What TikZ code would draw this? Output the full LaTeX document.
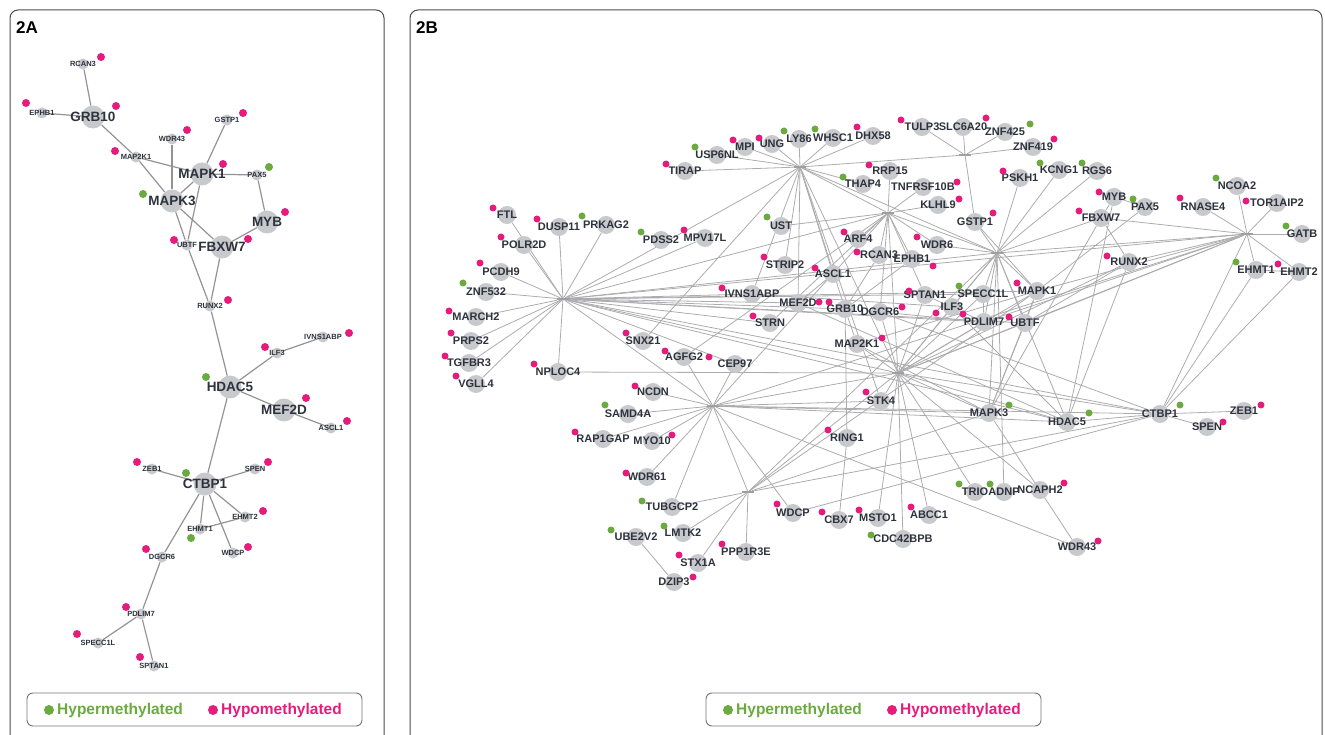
\documentclass[tikz,border=0pt]{standalone}
\usepackage{fontspec}
\setmainfont{Liberation Sans}
\pgfdeclarelayer{edges}
\pgfsetlayers{edges,main}
\definecolor{hyper}{RGB}{106,170,62}
\definecolor{hypo}{RGB}{230,28,125}
\definecolor{nodegray}{RGB}{200,201,205}
\definecolor{txt}{RGB}{45,50,60}
\definecolor{edgegray}{RGB}{172,172,174}
\tikzset{gnode/.style = {circle, fill=nodegray, inner sep=0, minimum size=18}}
\tikzset{glabel/.style = {font=\bfseries\fontsize{11}{11}\selectfont, text=txt, inner sep=0}}
\tikzset{asmall/.style = {circle, fill=nodegray, inner sep=0, minimum size=11}}
\tikzset{abig/.style = {circle, fill=nodegray, inner sep=0, minimum size=23}}
\tikzset{aslabel/.style = {font=\bfseries\fontsize{7.5}{7.5}\selectfont, text=txt, inner sep=0}}
\tikzset{ablabel/.style = {font=\bfseries\fontsize{13.5}{13.5}\selectfont, text=txt, inner sep=0}}
\tikzset{mdot/.style = {circle, inner sep=0, minimum size=7}}
\tikzset{hub/.style = {fill=gray!75, inner sep=0, minimum width=12, minimum height=2}}
\tikzset{aedge/.style = {draw=gray!85, line width=1.2}}
\tikzset{bedge/.style = {draw=edgegray, line width=0.8}}
\tikzset{panel/.style = {draw=black!70, line width=1, rounded corners=8}}
\tikzset{legbox/.style = {draw=black!55, line width=0.9, rounded corners=6}}
\tikzset{legtext/.style = {font=\bfseries\fontsize{15.5}{16}\selectfont, inner sep=0, anchor=west}}

\begin{document}
\begin{tikzpicture}[x=1pt, y=-1pt]
  \useasboundingbox (0,0) rectangle (1325,735);
  \clip (0,0) rectangle (1325,735);

  % panels
  \draw[panel] (10,10) rectangle (384,800);
  \draw[panel] (410,10) rectangle (1322,800);
  \node[font=\bfseries\fontsize{17}{17}\selectfont, anchor=west, inner sep=0] (titA) at (16,28) {2A};
  \node[font=\bfseries\fontsize{17}{17}\selectfont, anchor=west, inner sep=0] (titB) at (416,28) {2B};

  % 2A
  \foreach \n/\x/\y/\u/\v/\c in {RCAN3/83/64/101/57/hypo, EPHB1/42/113/26/103/hypo,
      GSTP1/227/120/243/113/hypo, WDR43/172/139/187/130/hypo, MAP2K1/136/157/115/151/hypo,
      PAX5/257/175/269/167/hyper, UBTF/187/245/174/240/hypo, RUNX2/210/306/228/300/hypo,
      IVNS1ABP/323/337/349/333/hypo, ILF3/277/353/265/347/hypo, ASCL1/331/428/347/421/hypo,
      ZEB1/152/469/137/462/hypo, SPEN/255/469/268/462/hypo, EHMT2/245/517/263/511/hypo,
      EHMT1/200/529/191/538/hyper, WDCP/233/553/248/547/hypo, DGCR6/162/557/146/549/hypo,
      PDLIM7/141/614/126/607/hypo, SPECC1L/98/643/77/634/hypo, SPTAN1/154/666/140/657/hypo}
    {
      \node[asmall, label={[aslabel]center:\n}] (a\n) at (\x,\y) {};
      \node[mdot, minimum size=8, fill=\c] (ad\n) at (\u,\v) {};
    }
  \foreach \n/\x/\y/\u/\v/\c in {GRB10/93/117/116/106/hypo, MAPK1/202/174/223/164/hypo,
      MAPK3/172/201/143/194/hyper, MYB/267/222/285/212/hypo, FBXW7/222/247/248/239/hypo,
      HDAC5/230/387/206/377/hyper, MEF2D/284/410/306/398/hypo, CTBP1/205/484/186/473/hyper}
    {
      \node[abig, label={[ablabel]center:\n}] (a\n) at (\x,\y) {};
      \node[mdot, minimum size=8, fill=\c] (ad\n) at (\u,\v) {};
    }
  \begin{pgfonlayer}{edges}
    \foreach \s/\t in {GRB10/RCAN3, GRB10/EPHB1, GRB10/MAP2K1, MAP2K1/MAPK3, MAP2K1/MAPK1,
        WDR43/MAPK3, GSTP1/MAPK1, MAPK1/PAX5, PAX5/MYB, MAPK1/MAPK3, MAPK1/UBTF, MAPK3/UBTF,
        MAPK3/FBXW7, MYB/FBXW7, UBTF/RUNX2, FBXW7/RUNX2, RUNX2/HDAC5, HDAC5/ILF3,
        ILF3/IVNS1ABP, HDAC5/MEF2D, MEF2D/ASCL1, HDAC5/CTBP1, CTBP1/ZEB1, CTBP1/SPEN,
        CTBP1/EHMT2, CTBP1/EHMT1, EHMT1/EHMT2, CTBP1/WDCP, CTBP1/DGCR6, DGCR6/PDLIM7,
        PDLIM7/SPECC1L, PDLIM7/SPTAN1}
      \draw[aedge] (a\s) -- (a\t);
  \end{pgfonlayer}

  % 2B
  \foreach \n/\x/\y in {h1/800/167, h2/888/213, h3/965/155, h4/997/253, h5/1247/234,
      h6/563/299, h7/898/373, h8/713/406, h9/748/492}
    \node[hub] (b\n) at (\x,\y) {};
  \foreach \n/\x/\y/\u/\v/\c in {USP6NL/717/155/695/147/hyper, TIRAP/685/171/666/164/hypo,
      FTL/507/215/493/208/hypo, DUSP11/559/227/537/219/hypo, PRKAG2/606/225/582/216/hyper,
      PDSS2/661/240/641/232/hyper, MPV17L/705/238/684/230/hypo, POLR2D/524/245/501/237/hypo,
      PCDH9/501/272/480/263/hypo, MPI/745/147/733/140/hypo, UNG/772/144/759/138/hypo,
      LY86/799/139/784/131/hyper, WHSC1/833/138/815/129/hyper, DHX58/873/136/857/127/hypo,
      TULP3/922/127/901/120/hypo, SLC6A20/963/127/986/118/hypo, ZNF425/1005/132/1030/124/hyper,
      ZNF419/1033/147/1054/139/hypo, RRP15/890/171/869/165/hypo, THAP4/863/184/843/177/hyper,
      TNFRSF10B/923/187/957/182/hypo, KLHL9/938/205/959/199/hypo, GSTP1/975/222/993/213/hypo,
      UST/781/226/767/217/hyper, ARF4/858/239/844/232/hypo, WDR6/937/245/917/237/hypo,
      RCAN3/879/255/857/252/hypo, EPHB1/912/259/933/266/hypo, STRIP2/785/265/764/257/hypo,
      ASCL1/833/274/815/268/hypo, PSKH1/1020/178/1003/171/hypo, KCNG1/1059/170/1040/163/hyper,
      RGS6/1097/171/1082/163/hyper, MYB/1114/197/1099/192/hypo, PAX5/1145/207/1133/199/hyper,
      FBXW7/1101/218/1079/211/hypo, RNASE4/1203/207/1180/198/hypo, NCOA2/1237/186/1216/178/hyper,
      TOR1AIP2/1277/203/1246/201/hypo, GATB/1302/234/1286/226/hyper, RUNX2/1129/262/1107/256/hypo,
      EHMT1/1256/270/1236/262/hyper, EHMT2/1299/272/1278/264/hypo, ZNF532/486/292/463/283/hyper,
      MARCH2/476/317/449/311/hypo, PRPS2/471/341/451/333/hypo, TGFBR3/469/363/445/356/hypo,
      VGLL4/476/384/456/376/hypo, NPLOC4/558/372/534/364/hypo, SNX21/643/341/626/333/hypo,
      AGFG2/684/357/665/351/hypo, CEP97/735/364/709/357/hypo, NCDN/653/392/635/386/hypo,
      SAMD4A/628/414/605/405/hyper, RAP1GAP/603/439/575/432/hypo, MYO10/652/441/672/435/hypo,
      IVNS1ABP/752/294/722/288/hypo, MEF2D/798/303/819/302/hypo, GRB10/845/309/829/302/hypo,
      DGCR6/880/312/902/307/hypo, SPTAN1/925/295/909/291/hypo, ILF3/952/307/936/313/hypo,
      SPECC1L/983/294/959/286/hyper, PDLIM7/984/322/963/314/hypo, UBTF/1025/323/1009/317/hypo,
      STRN/770/323/753/316/hypo, MAP2K1/857/344/882/338/hypo, STK4/881/401/866/392/hypo,
      MAPK3/989/413/1009/405/hyper, RING1/847/438/828/430/hypo, MAPK1/1037/291/1017/283/hypo,
      HDAC5/1067/422/1089/413/hyper, CTBP1/1160/414/1180/405/hyper, ZEB1/1244/411/1261/405/hypo,
      SPEN/1207/427/1223/422/hypo, WDR61/647/477/626/473/hypo, TUBGCP2/672/507/642/501/hyper,
      LMTK2/683/533/664/526/hyper, UBE2V2/636/537/611/530/hyper, STX1A/698/563/679/555/hypo,
      DZIP3/674/582/693/577/hypo, WDCP/793/513/777/504/hypo, CBX7/839/520/822/512/hypo,
      MSTO1/878/518/859/510/hypo, ABCC1/929/515/911/507/hypo, CDC42BPB/903/539/871/535/hyper,
      PPP1R3E/746/552/722/544/hypo, TRIO/975/492/959/484/hyper, ADNP/1004/492/990/484/hyper,
      NCAPH2/1040/490/1064/483/hypo, WDR43/1077/547/1098/541/hypo}
    {
      \node[gnode, label={[glabel]center:\n}] (b\n) at (\x,\y) {};
      \node[mdot, fill=\c] (bd\n) at (\u,\v) {};
    }
  \begin{pgfonlayer}{edges}
    \foreach \s/\t in {h1/MPI, h1/UNG, h1/LY86, h1/WHSC1, h1/DHX58, h1/USP6NL, h1/TIRAP,
        h1/THAP4, h1/STRIP2, h1/ASCL1, h1/MEF2D, h1/GRB10, h1/SNX21, h1/IVNS1ABP, h1/STK4,
        h2/RRP15, h2/TNFRSF10B, h2/UST, h2/ARF4, h2/RCAN3, h2/EPHB1, h2/WDR6, h2/KLHL9,
        h2/AGFG2, h2/STRN, h2/DGCR6, h2/SPTAN1,
        h3/TULP3, h3/SLC6A20, h3/ZNF425, h3/ZNF419, h3/GSTP1,
        h4/GSTP1, h4/PSKH1, h4/KCNG1, h4/RGS6, h4/MAPK1, h4/UBTF, h4/PDLIM7, h4/SPECC1L,
        h4/ILF3, h4/ADNP, h4/FBXW7, h4/MAPK3, h4/HDAC5, h4/WDR6,
        h5/NCOA2, h5/TOR1AIP2, h5/GATB, h5/RNASE4, h5/EHMT1, h5/EHMT2, h5/CTBP1, h5/FBXW7,
        h5/UBTF, h5/MAPK1, h5/PDLIM7, h5/RUNX2,
        h6/FTL, h6/POLR2D, h6/DUSP11, h6/PRKAG2, h6/PCDH9, h6/ZNF532, h6/MARCH2, h6/PRPS2,
        h6/TGFBR3, h6/VGLL4, h6/NPLOC4, h6/MPV17L, h6/IVNS1ABP, h6/STRN, h6/MEF2D,
        h6/SPECC1L, h6/PDLIM7, h6/UBTF, h6/MAPK1, h6/CTBP1, h6/HDAC5, h6/CEP97, h6/GRB10,
        h7/MAP2K1, h7/STK4, h7/DGCR6, h7/SPTAN1, h7/ILF3, h7/MSTO1, h7/CDC42BPB, h7/ABCC1,
        h7/TRIO, h7/NCAPH2, h7/MAPK3, h7/NPLOC4, h7/HDAC5, h7/CTBP1, h7/UBTF, h7/MAPK1,
        h7/PDLIM7, h7/SPECC1L, h7/RUNX2,
        h8/NCDN, h8/SAMD4A, h8/RAP1GAP, h8/MYO10, h8/WDR61, h8/TUBGCP2, h8/AGFG2, h8/CEP97,
        h8/WDR43, h8/WDCP, h8/MAPK3, h8/HDAC5, h8/CTBP1, h8/STK4,
        h9/PPP1R3E, h9/LMTK2, h9/STX1A, h9/TUBGCP2, h9/CTBP1, h9/MAPK3, h9/MAPK1,
        h1/h2, h1/h3, h1/h4, h1/h6, h1/h7, h2/h4, h2/h6, h2/h7, h4/h5, h4/h6, h4/h7,
        h5/h6, h5/h7, h6/h7, h6/h8, h7/h8, h7/h9, h8/h9, h4/h9, h2/h8, h5/h8,
        GRB10/RCAN3, GRB10/EPHB1, GRB10/MAP2K1, MAP2K1/MAPK3, MAP2K1/MAPK1, WDR43/MAPK3,
        GSTP1/MAPK1, MAPK1/PAX5, PAX5/MYB, MAPK1/MAPK3, MAPK1/UBTF, MAPK3/UBTF,
        MAPK3/FBXW7, MYB/FBXW7, UBTF/RUNX2, FBXW7/RUNX2, RUNX2/HDAC5, HDAC5/ILF3,
        ILF3/IVNS1ABP, HDAC5/MEF2D, MEF2D/ASCL1, HDAC5/CTBP1, CTBP1/ZEB1, CTBP1/SPEN,
        CTBP1/EHMT2, CTBP1/EHMT1, EHMT1/EHMT2, CTBP1/WDCP, CTBP1/DGCR6, DGCR6/PDLIM7,
        PDLIM7/SPECC1L, PDLIM7/SPTAN1, UBE2V2/DZIP3, CBX7/RING1, RING1/GRB10, HDAC5/MYB}
      \draw[bedge] (b\s) -- (b\t);
  \end{pgfonlayer}

  % legends
  \draw[legbox] (27,693) rectangle (362,726);
  \node[mdot, minimum size=10, fill=hyper] (lAgreen) at (49,710) {};
  \node[legtext, text=hyper] (lAhyper) at (57,710) {Hypermethylated};
  \node[mdot, minimum size=10, fill=hypo] (lApink) at (213,710) {};
  \node[legtext, text=hypo] (lAhypo) at (221,710) {Hypomethylated};
  \draw[legbox] (706,693) rectangle (1041,726);
  \node[mdot, minimum size=10, fill=hyper] (lBgreen) at (728,710) {};
  \node[legtext, text=hyper] (lBhyper) at (736,710) {Hypermethylated};
  \node[mdot, minimum size=10, fill=hypo] (lBpink) at (892,710) {};
  \node[legtext, text=hypo] (lBhypo) at (900,710) {Hypomethylated};
\end{tikzpicture}
\end{document}
